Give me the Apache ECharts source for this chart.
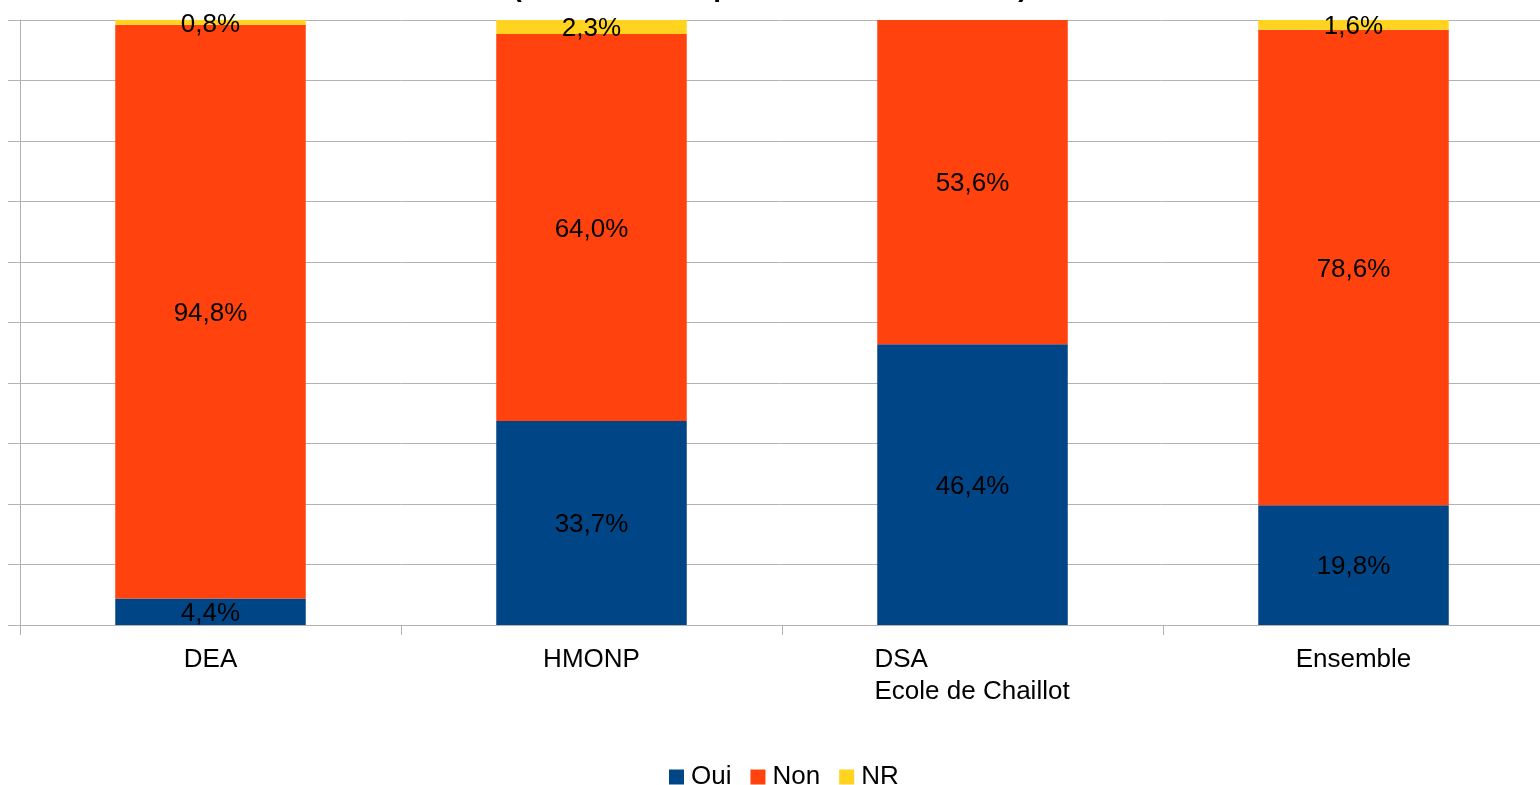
<!DOCTYPE html>
<html>
<head>
<meta charset="utf-8">
<script src="https://cdn.jsdelivr.net/npm/echarts@6/dist/echarts.min.js"></script>
<style>html,body{margin:0;padding:0;background:#fff}#c{width:1540px;height:785px}</style>
</head>
<body>
<div id="c"></div>
<script>
const categories = ['DEA', 'HMONP', 'DSA\nEcole de Chaillot', 'Ensemble'];
const oui = [4.4, 33.7, 46.4, 19.8];
const non = [94.8, 64.0, 53.6, 78.6];
const nr = [0.8, 2.3, null, 1.6];
const titleText = '(en nombre de personnes concernées)';

const chart = echarts.init(document.getElementById('c'));
const FONT = 'Liberation Sans';
const FS = 26;
const fmt = p => (p.value == null || p.value === 0) ? '' : p.value.toFixed(1).replace('.', ',') + '%';
function mk(name, data, color) {
  return {
    name, type: 'bar', stack: 'total', data, barWidth: '50%',
    itemStyle: { color },
    label: { show: true, position: 'inside', offset: [0, 2], formatter: fmt, color: '#000', fontFamily: FONT, fontSize: FS },
    emphasis: { disabled: true }
  };
}
chart.setOption({
  animation: false,
  graphic: [{
    type: 'text', left: 'center', top: -26, silent: true,
    style: { text: titleText, font: 'bold 28px "Liberation Sans"', fill: '#000' }
  }],
  grid: { left: 20, width: 1524, top: 20, bottom: 160, containLabel: false, outerBoundsMode: 'none' },
  legend: {
    top: 759, left: 664, icon: 'rect', itemWidth: 15, itemHeight: 15, itemGap: 19,
    textStyle: { fontFamily: FONT, fontSize: FS, color: '#000', padding: [0, 0, 0, 2] },
    data: ['Oui', 'Non', 'NR']
  },
  xAxis: {
    type: 'category', data: categories,
    axisLine: { lineStyle: { color: '#b3b3b3', width: 1 } },
    axisTick: { show: true, length: 10, lineStyle: { color: '#b3b3b3' } },
    axisLabel: {
      margin: 19, color: '#000', fontFamily: FONT, fontSize: FS, lineHeight: 32, interval: 0,
      formatter: v => v.indexOf('\n') >= 0 ? v.split('\n').map(s => '{l|' + s + '}').join('\n') : v,
      rich: { l: { width: 196, align: 'left', fontFamily: FONT, fontSize: FS, lineHeight: 32, color: '#000' } }
    },
    splitLine: { show: false }
  },
  yAxis: {
    type: 'value', min: 0, max: 100, interval: 10,
    axisLine: { show: true, lineStyle: { color: '#b3b3b3', width: 1 } },
    axisTick: { show: true, length: 12, lineStyle: { color: '#b3b3b3' } },
    axisLabel: { show: false },
    splitLine: { show: true, lineStyle: { color: '#b3b3b3', width: 1 } }
  },
  series: [
    mk('Oui', oui, '#004586'),
    mk('Non', non, '#ff420e'),
    mk('NR', nr, '#ffd320')
  ]
});
</script>
</body>
</html>
